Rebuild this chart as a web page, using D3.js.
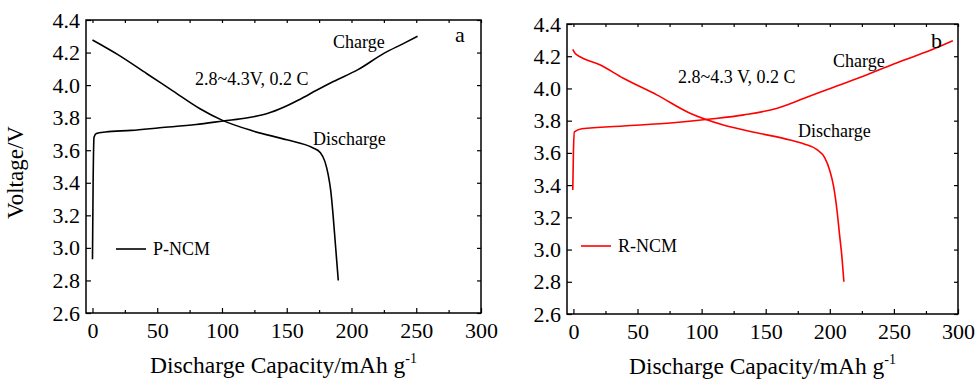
<!DOCTYPE html>
<html>
<head>
<meta charset="utf-8">
<script src="https://cdn.jsdelivr.net/npm/d3@7"></script>
<style>
  body { margin: 0; background: #fff; }
  svg text { font-family: "Liberation Serif", "Times New Roman", serif !important; }
</style>
</head>
<body>
<svg id="chart" width="975" height="379"></svg>
<script>
// panel a: P-NCM
const pChargeX = [0, 0.5, 1.2, 3, 10, 30, 52, 80, 101, 120, 135, 148, 160, 173, 186, 205, 225, 240, 251];
const pChargeV = [2.93, 3.4, 3.68, 3.703, 3.712, 3.722, 3.738, 3.758, 3.78, 3.80, 3.825, 3.865, 3.912, 3.968, 4.022, 4.095, 4.195, 4.255, 4.30];
const pDischargeX = [0, 19, 42, 62, 83, 100, 124, 150, 170, 176, 179.5, 182, 184, 185.8, 187.3, 188.6, 189.8];
const pDischargeV = [4.277, 4.19, 4.07, 3.965, 3.855, 3.785, 3.718, 3.664, 3.615, 3.585, 3.53, 3.45, 3.35, 3.2, 3.05, 2.92, 2.80];

// panel b: R-NCM
const rChargeX = [-0.5, 0, 0.8, 6.5, 39, 78, 107, 133, 159, 182, 203, 229, 255, 278, 296];
const rChargeV = [3.37, 3.6, 3.73, 3.75, 3.767, 3.787, 3.81, 3.836, 3.877, 3.945, 4.008, 4.085, 4.168, 4.235, 4.296];
const rDischargeX = [-0.5, 1.3, 5.2, 21, 39, 65, 91, 117, 143, 169, 180, 190, 196, 200, 203, 205.5, 207.5, 209.5, 211];
const rDischargeV = [4.243, 4.218, 4.197, 4.145, 4.063, 3.96, 3.846, 3.773, 3.725, 3.68, 3.655, 3.62, 3.57, 3.49, 3.39, 3.25, 3.10, 2.95, 2.80];

const xTicks = [0, 50, 100, 150, 200, 250, 300];
const xMinor = [25, 75, 125, 175, 225, 275];
const yTicks = [2.6, 2.8, 3.0, 3.2, 3.4, 3.6, 3.8, 4.0, 4.2, 4.4];

const zip = (xs, ys) => xs.map((x, i) => ({x: x, v: ys[i]}));

const panels = [
    {
        left: 86, right: 481, top: 20, bottom: 313, color: '#000',
        charge: zip(pChargeX, pChargeV), discharge: zip(pDischargeX, pDischargeV),
        name: 'P-NCM', letter: 'a', yTitle: true,
        cond: '2.8~4.3V, 0.2 C', condPos: [195, 85], chargePos: [333, 48], disPos: [313, 145],
        letterPos: [455, 42], legendPos: [116, 249]
    },
    {
        left: 567, right: 958, top: 24, bottom: 314, color: '#ff0000',
        charge: zip(rChargeX, rChargeV), discharge: zip(rDischargeX, rDischargeV),
        name: 'R-NCM', letter: 'b', yTitle: false,
        cond: '2.8~4.3 V, 0.2 C', condPos: [678, 83], chargePos: [833, 67], disPos: [798, 137],
        letterPos: [931, 48], legendPos: [581, 246]
    }
];

const svg = d3.select('#chart');

panels.forEach(p => {
    const x = d3.scaleLinear().domain([-5, 300]).range([p.left, p.right]);
    const y = d3.scaleLinear().domain([2.6, 4.4]).range([p.bottom, p.top]);
    const g = svg.append('g');

    // frame
    g.append('rect')
        .attr('x', p.left).attr('y', p.top)
        .attr('width', p.right - p.left).attr('height', p.bottom - p.top)
        .attr('fill', 'none').attr('stroke', '#000').attr('stroke-width', 1.5);

    // bottom axis, inward ticks
    const xAxis = g.append('g')
        .attr('transform', 'translate(0,' + p.bottom + ')')
        .call(d3.axisBottom(x).tickValues(xTicks).tickSizeInner(-5).tickSizeOuter(0).tickPadding(9));
    xAxis.select('.domain').remove();
    g.append('g')
        .attr('transform', 'translate(0,' + p.bottom + ')')
        .call(d3.axisBottom(x).tickValues(xMinor).tickSizeInner(-3).tickSizeOuter(0).tickFormat(''))
        .select('.domain').remove();

    // top mirror ticks
    g.append('g')
        .attr('transform', 'translate(0,' + p.top + ')')
        .call(d3.axisTop(x).tickValues(xTicks.concat(xMinor)).tickSizeInner(-3).tickSizeOuter(0).tickFormat(''))
        .select('.domain').remove();

    // left axis
    const yAxis = g.append('g')
        .attr('transform', 'translate(' + p.left + ',0)')
        .call(d3.axisLeft(y).tickValues(yTicks).tickSizeInner(-5).tickSizeOuter(0).tickPadding(6)
            .tickFormat(d3.format('.1f')));
    yAxis.select('.domain').remove();

    // right mirror ticks
    g.append('g')
        .attr('transform', 'translate(' + p.right + ',0)')
        .call(d3.axisRight(y).tickValues(yTicks).tickSizeInner(-4).tickSizeOuter(0).tickFormat(''))
        .select('.domain').remove();

    g.selectAll('.tick line').attr('stroke', '#000').attr('stroke-width', 1.2);
    g.selectAll('.tick text')
        .attr('fill', '#000')
        .style('font-size', '22px');

    // axis titles
    const title = g.append('text')
        .attr('x', (p.left + p.right) / 2).attr('y', p.bottom + 60)
        .attr('text-anchor', 'middle')
        .style('font-size', '23.5px')
        .text('Discharge Capacity/mAh g');
    title.append('tspan').attr('dy', -10).style('font-size', '14px').text('-1');

    if (p.yTitle) {
        g.append('text')
            .attr('transform', 'translate(23,' + ((p.top + p.bottom) / 2 + 6) + ') rotate(-90)')
            .attr('text-anchor', 'middle')
            .style('font-size', '23px')
            .text('Voltage/V');
    }

    // curves
    const line = d3.line()
        .x(d => x(d.x))
        .y(d => y(d.v))
        .curve(d3.curveMonotoneX);

    [p.charge, p.discharge].forEach(data => {
        g.append('path')
            .attr('d', line(data))
            .attr('fill', 'none')
            .attr('stroke', p.color)
            .attr('stroke-width', 1.6);
    });

    // annotations
    const label = (pos, txt, size) => g.append('text')
        .attr('x', pos[0]).attr('y', pos[1])
        .style('font-size', size + 'px')
        .text(txt);
    label(p.chargePos, 'Charge', 18);
    label(p.disPos, 'Discharge', 18);
    label(p.condPos, p.cond, 18);
    label(p.letterPos, p.letter, 22);

    // legend
    g.append('line')
        .attr('x1', p.legendPos[0]).attr('x2', p.legendPos[0] + 30)
        .attr('y1', p.legendPos[1]).attr('y2', p.legendPos[1])
        .attr('stroke', p.color).attr('stroke-width', 1.6);
    label([p.legendPos[0] + 37, p.legendPos[1] + 6], p.name, 18);
});
</script>
</body>
</html>
